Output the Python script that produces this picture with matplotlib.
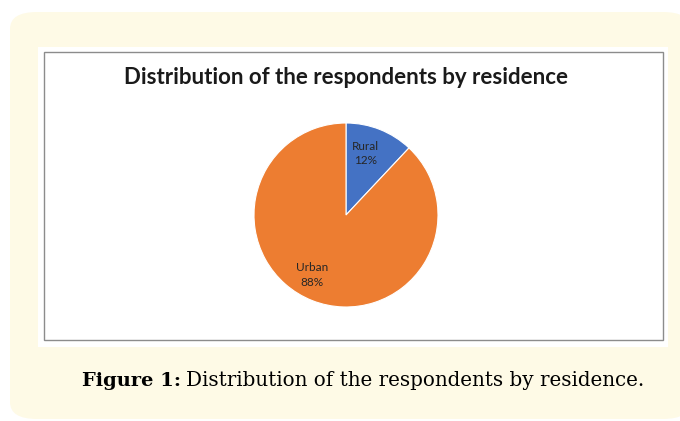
import matplotlib.pyplot as plt
from matplotlib.patches import FancyBboxPatch, Rectangle

categories = ['Rural', 'Urban']
shares = [12, 88]
colors = ['#4472C4', '#ED7D31']

W, H = 680, 421
fig = plt.figure(figsize=(W / 100, H / 100), dpi=100)
fig.patch.set_facecolor('white')


def fx(x):
    return x / W


def fy(y):
    return 1 - y / H


# cream rounded card
fig.patches.append(FancyBboxPatch((fx(10), fy(419)), fx(690) - fx(10), fy(12) - fy(419),
                                  boxstyle='round,pad=0,rounding_size=0.04',
                                  transform=fig.transFigure, facecolor='#FEFAE6',
                                  edgecolor='none', zorder=0))
# white chart panel and grey border
fig.patches.append(Rectangle((fx(38), fy(347)), fx(668) - fx(38), fy(47) - fy(347),
                             transform=fig.transFigure, facecolor='white',
                             edgecolor='none', zorder=1))
fig.patches.append(Rectangle((fx(44), fy(340)), fx(663) - fx(44), fy(52) - fy(340),
                             transform=fig.transFigure, facecolor='none',
                             edgecolor='#8C8C8C', lw=1, zorder=2))

fig.text(fx(346), fy(77), 'Distribution of the respondents by residence',
         ha='center', va='center', fontsize=16, fontweight='bold',
         family='Lato', color='#1a1a1a', zorder=3)

cx, cy, r = 346, 215, 92
ax = fig.add_axes([fx(cx - r), fy(cy + r), 2 * r / W, 2 * r / H], zorder=5)
ax.patch.set_alpha(0)
labels = ['%s\n%d%%' % (c, s) for c, s in zip(categories, shares)]
wedges, texts = ax.pie(shares, colors=colors, startangle=90, counterclock=False,
                       wedgeprops=dict(edgecolor='white', linewidth=0.8),
                       labels=labels, labeldistance=0.72,
                       textprops=dict(fontsize=8.5, family='Lato', color='#262626',
                                      ha='center', va='center', linespacing=1.4))
# nudge labels toward where the original places them
texts[0].set_position((texts[0].get_position()[0] - 0.05, texts[0].get_position()[1]))
texts[1].set_position((texts[1].get_position()[0] - 0.1, texts[1].get_position()[1] + 0.02))
ax.set_xlim(-1, 1)
ax.set_ylim(-1, 1)
ax.set_aspect('auto')
ax.axis('off')

fig.text(fx(82), fy(381), 'Figure 1:', ha='left', va='center', fontsize=14,
         fontweight='bold', family='DejaVu Serif', color='black')
fig.text(fx(186), fy(381), 'Distribution of the respondents by residence.',
         ha='left', va='center', fontsize=14.3, family='DejaVu Serif', color='black')

fig.savefig('out.png', dpi=100)
